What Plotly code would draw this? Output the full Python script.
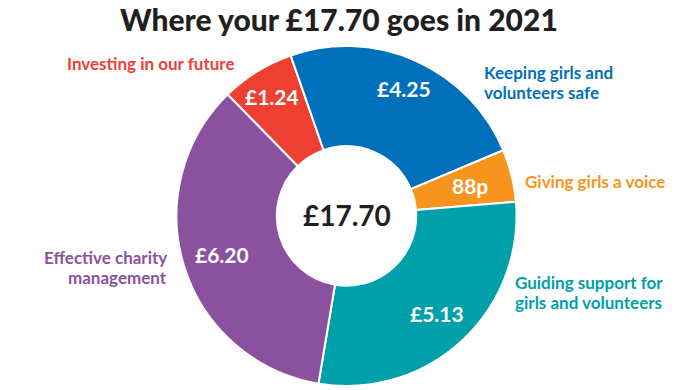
import math
import plotly.graph_objects as go

labels = ["Investing in our future", "Keeping girls and volunteers safe", "Giving girls a voice",
          "Guiding support for girls and volunteers", "Effective charity management"]
values = [1.24, 4.25, 0.88, 5.13, 6.20]
value_text = ["£1.24", "£4.25", "88p", "£5.13", "£6.20"]
colors = ["#EE3F33", "#0070BA", "#F7941D", "#00A0AA", "#8A529E"]
outside_lines = [["Investing in our future"], ["Keeping girls and", "volunteers safe"], ["Giving girls a voice"],
                 ["Guiding support for", "girls and volunteers"], ["Effective charity", "management"]]

FONT = "Lato"
W, H = 692, 390
cx, cy, R = 346.5, 216, 170
ROT = -44.4
total = sum(values)

fig = go.Figure(go.Pie(
    labels=labels, values=values, textinfo="none",
    marker=dict(colors=colors, line=dict(color="white", width=2)),
    hole=0.41, sort=False, direction="clockwise", rotation=ROT,
    domain=dict(x=[(cx - R) / W, (cx + R) / W], y=[1 - (cy + R) / H, 1 - (cy - R) / H]),
    showlegend=False, hoverinfo="label+value",
))

# value labels inside the ring, placed at each slice's mid angle
label_r = [141, 140, 127, 133, 130]
cum = 0.0
for v, t, r in zip(values, value_text, label_r):
    mid = ROT + (cum + v / 2) / total * 360
    cum += v
    a = math.radians(mid)
    x = cx + r * math.sin(a)
    y = cy - r * math.cos(a)
    fig.add_annotation(x=x / W, y=1 - y / H, xref="paper", yref="paper", text=t, showarrow=False,
                       xanchor="center", yanchor="middle",
                       font=dict(family=FONT, size=21, color="white", weight="bold"))

ann_pos = [  # x px, first-line y px, anchor
    (236, 64, "right"),
    (482, 72, "left"),
    (523, 181, "left"),
    (513, 282, "left"),
    (169, 257, "right"),
]
for lines, col, (x, y, a) in zip(outside_lines, colors, ann_pos):
    for i, ln in enumerate(lines):
        fig.add_annotation(x=x / W, y=1 - (y + 20 * i) / H, xref="paper", yref="paper", text=ln,
                           showarrow=False, xanchor=a, yanchor="middle",
                           font=dict(family=FONT, size=17, color=col, weight="bold"))

fig.add_annotation(x=cx / W, y=1 - 215 / H, xref="paper", yref="paper", text="£" + f"{total:.2f}",
                   showarrow=False, xanchor="center", yanchor="middle",
                   font=dict(family=FONT, size=28, color="#231F20", weight="bold"))
fig.add_annotation(x=339 / W, y=1 - 19 / H, xref="paper", yref="paper",
                   text="Where your £" + f"{total:.2f}" + " goes in 2021",
                   showarrow=False, xanchor="center", yanchor="middle",
                   font=dict(family=FONT, size=30, color="#231F20", weight=900))

fig.update_layout(width=W, height=H, margin=dict(l=0, r=0, t=0, b=0),
                  paper_bgcolor="white", plot_bgcolor="white")
fig.write_html("out.html", config={"displayModeBar": False},
               post_script="document.body.style.margin='0';")
